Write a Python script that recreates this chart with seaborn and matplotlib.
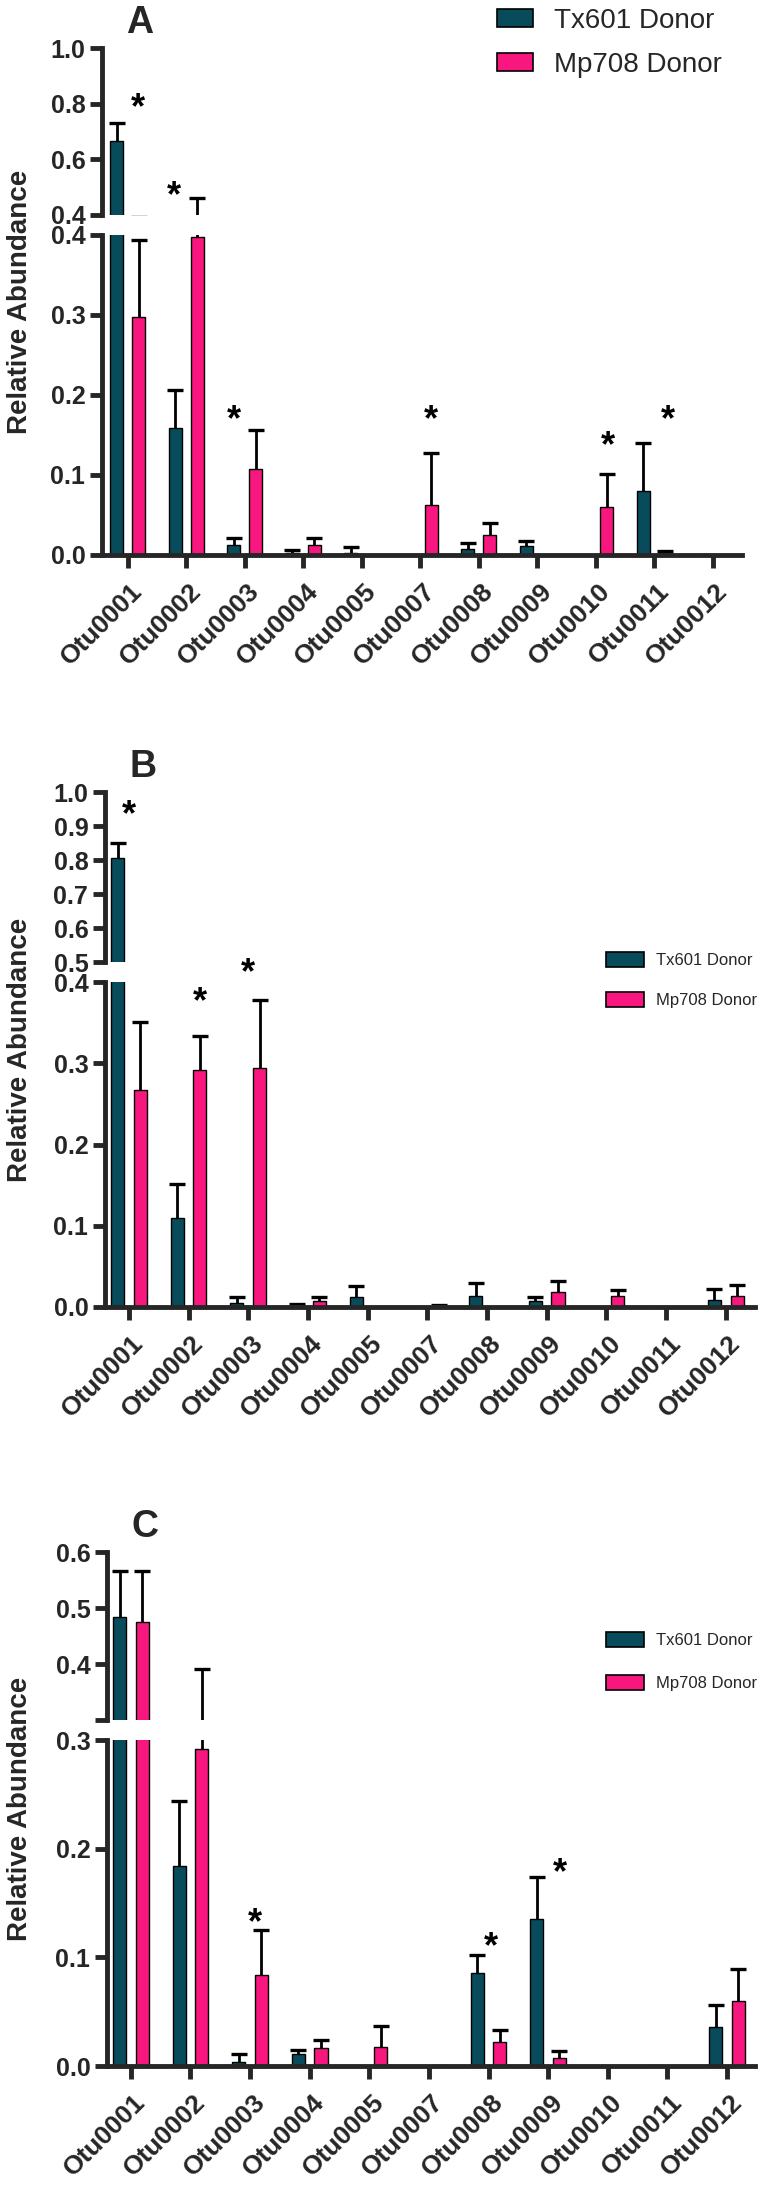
import matplotlib
matplotlib.use("Agg")
import matplotlib.pyplot as plt
from matplotlib.transforms import ScaledTranslation
import pandas as pd
import seaborn as sns

# categories / groups
otus = ["Otu0001", "Otu0002", "Otu0003", "Otu0004", "Otu0005", "Otu0007",
        "Otu0008", "Otu0009", "Otu0010", "Otu0011", "Otu0012"]
donors = ["Tx601 Donor", "Mp708 Donor"]

# panel A (mean, upper error)
tx_a = [0.665, 0.159, 0.0125, 0.003, 0.003, 0.0005, 0.008, 0.011, 0.0, 0.080, 0.001]
tx_a_err = [0.065, 0.047, 0.0085, 0.003, 0.007, 0.0, 0.007, 0.006, 0.0, 0.060, 0.0]
mp_a = [0.298, 0.398, 0.1075, 0.0125, 0.0, 0.0625, 0.025, 0.0, 0.060, 0.002, 0.0]
mp_a_err = [0.096, 0.062, 0.0485, 0.0085, 0.0, 0.0645, 0.015, 0.0, 0.041, 0.003, 0.0]

# panel B
tx_b = [0.806, 0.109, 0.005, 0.002, 0.012, 0.001, 0.014, 0.008, 0.0, 0.001, 0.009]
tx_b_err = [0.044, 0.043, 0.007, 0.002, 0.014, 0.0, 0.015, 0.004, 0.0, 0.0, 0.013]
mp_b = [0.267, 0.292, 0.294, 0.0075, 0.0, 0.001, 0.0, 0.018, 0.013, 0.0, 0.014]
mp_b_err = [0.084, 0.042, 0.084, 0.0045, 0.0, 0.002, 0.0, 0.014, 0.008, 0.0, 0.013]

# panel C
tx_c = [0.484, 0.184, 0.004, 0.011, 0.0, 0.0, 0.0855, 0.135, 0.0, 0.001, 0.036]
tx_c_err = [0.082, 0.060, 0.007, 0.0035, 0.0, 0.0, 0.0165, 0.039, 0.0, 0.0, 0.020]
mp_c = [0.475, 0.292, 0.084, 0.0165, 0.0175, 0.001, 0.022, 0.0075, 0.0, 0.0, 0.060]
mp_c_err = [0.091, 0.099, 0.041, 0.0075, 0.0195, 0.0, 0.011, 0.0065, 0.0, 0.0, 0.029]

# significance stars: category index, side (-1 Tx601, +1 Mp708), height
star_a_idx = [0, 1, 2, 5, 8, 9]
star_a_side = [0.9, -1.1, -1.0, 1.0, 1.1, 1.2]
star_a_y = [0.813, 0.496, 0.178, 0.178, 0.146, 0.178]
star_b_idx = [0, 1, 2]
star_b_side = [0.0, 1.0, 0.0]
star_b_y = [0.956, 0.385, 0.421]
star_c_idx = [2, 6, 7]
star_c_side = [0.4, 0.2, 1.0]
star_c_y = [0.139, 0.117, 0.185]

# axis breaks
up_a = (0.4, 1.0); up_a_ticks = [0.4, 0.6, 0.8, 1.0]; up_a_labels = ["0.4", "0.6", "0.8", "1.0"]
lo_a = (0.0, 0.4); lo_a_ticks = [0.0, 0.1, 0.2, 0.3, 0.4]
up_b = (0.5, 1.0); up_b_ticks = [0.5, 0.6, 0.7, 0.8, 0.9, 1.0]; up_b_labels = ["0.5", "0.6", "0.7", "0.8", "0.9", "1.0"]
lo_b = (0.0, 0.4); lo_b_ticks = [0.0, 0.1, 0.2, 0.3, 0.4]
up_c = (0.3, 0.6); up_c_ticks = [0.3, 0.4, 0.5, 0.6]; up_c_labels = ["", "0.4", "0.5", "0.6"]
lo_c = (0.0, 0.3); lo_c_ticks = [0.0, 0.1, 0.2, 0.3]

TEAL = "#084c5c"
PINK = "#f8177f"
W, H = 762, 2185

sns.set_theme(style="ticks")
plt.rcParams["font.family"] = ["Liberation Sans", "DejaVu Sans"]
plt.rcParams["font.weight"] = "bold"
plt.rcParams["axes.linewidth"] = 3.5
plt.rcParams["axes.facecolor"] = "none"

fig = plt.figure(figsize=(W / 100, H / 100), dpi=100)


def px_axes(left, right, top, bottom):
    return fig.add_axes([left / W, 1 - bottom / H, (right - left) / W, (bottom - top) / H])


def long_frame(tx, mp):
    return pd.DataFrame({
        "otu": otus * 2,
        "donor": [donors[0]] * len(otus) + [donors[1]] * len(otus),
        "value": tx + mp,
    })


def draw_bars(ax, df, errs, legend=False):
    sns.barplot(data=df, x="otu", y="value", hue="donor", order=otus, hue_order=donors,
                palette=[TEAL, PINK], saturation=1, width=0.76, gap=0.42,
                edgecolor="black", linewidth=1, errorbar=None, legend=legend, ax=ax)
    bars = list(ax.containers[:2])
    for cont, err in zip(bars, errs):
        for patch, e in zip(cont.patches, err):
            if e <= 0:
                continue
            x = patch.get_x() + patch.get_width() / 2
            h = patch.get_height()
            _, caps, _ = ax.errorbar(x, h, yerr=[[0], [e]], color="black", elinewidth=2,
                                     capsize=5.5, capthick=2.4)
            caps[0].set_visible(False)


def panel(letter, box, tx, tx_err, mp, mp_err, up, up_ticks, up_labels,
          lo, lo_ticks, xlim, stars, leg):
    left, right, top, mid_top, mid_bot, bottom = box
    df = long_frame(tx, mp)
    errs = [tx_err, mp_err]

    ax_lo = px_axes(left, right, mid_bot, bottom)
    ax_up = px_axes(left, right, top, mid_top)
    ax_up.set_zorder(3)

    draw_bars(ax_up, df, errs, legend=True)
    draw_bars(ax_lo, df, errs)

    for ax in (ax_up, ax_lo):
        ax.set_xlim(*xlim)
        ax.set_xlabel("")
        ax.set_ylabel("")
        ax.tick_params(axis="y", length=9, width=3.5, labelsize=18, pad=3)
        sns.despine(ax=ax)

    ax_up.set_ylim(*up)
    ax_up.set_yticks(up_ticks, up_labels)
    ax_up.spines["bottom"].set_visible(False)
    ax_up.tick_params(axis="x", bottom=False, labelbottom=False)

    ax_lo.set_ylim(*lo)
    ax_lo.set_yticks(lo_ticks, [f"{t:.1f}" for t in lo_ticks])
    ax_lo.set_xticks(range(len(otus)))
    ax_lo.set_xticklabels(otus, rotation=45, ha="right", va="center",
                          rotation_mode="anchor", fontsize=19, fontweight="bold")
    ax_lo.tick_params(axis="x", length=9.5, width=3.5, pad=14)
    shift = ScaledTranslation(8 / 72, 0, fig.dpi_scale_trans)
    for lbl in ax_lo.get_xticklabels():
        lbl.set_transform(lbl.get_transform() + shift)

    # stars
    s_idx, s_side, s_y = stars
    for i, sd, y in zip(s_idx, s_side, s_y):
        ax = ax_up if up[0] < y <= up[1] else ax_lo
        ax.annotate("*", (i + sd * 0.19, y), xytext=(0, -6), textcoords="offset points",
                    ha="center", va="center", fontsize=26, fontweight="bold",
                    color="black", annotation_clip=False)

    # legend
    leg_x, leg_y, leg_fs, leg_hl, leg_hh, leg_pad, leg_sp = leg
    sns.move_legend(ax_up, "upper left", bbox_to_anchor=(leg_x / W, 1 - leg_y / H),
                    bbox_transform=fig.transFigure, frameon=False, title=None,
                    prop={"weight": "normal", "size": leg_fs}, handlelength=leg_hl,
                    handleheight=leg_hh, handletextpad=leg_pad, labelspacing=leg_sp,
                    borderpad=0, borderaxespad=0)
    for hnd in ax_up.get_legend().legend_handles:
        hnd.set_edgecolor("black")
        hnd.set_linewidth(1.2)

    # panel letter and y label
    fig.text((left + 38) / W, 1 - (top - 25) / H, letter, fontsize=27,
             fontweight="bold", ha="center", va="center")
    fig.text(20 / W, 1 - (top + bottom) / 2 / H, "Relative Abundance", rotation=90,
             fontsize=20, fontweight="bold", ha="center", va="center")


panel("A", (102, 742, 48, 215, 235, 555), tx_a, tx_a_err, mp_a, mp_a_err,
      up_a, up_a_ticks, up_a_labels, lo_a, lo_a_ticks, (-0.44, 10.5),
      (star_a_idx, star_a_side, star_a_y), (497, 8, 20, 1.3, 0.62, 0.75, 0.65))
panel("B", (105, 755, 792, 962, 982, 1307), tx_b, tx_b_err, mp_b, mp_b_err,
      up_b, up_b_ticks, up_b_labels, lo_b, lo_b_ticks, (-0.40, 10.49),
      (star_b_idx, star_b_side, star_b_y), (606, 952, 12, 2.3, 1.0, 0.7, 1.45))
panel("C", (107, 755, 1552, 1720, 1740, 2066), tx_c, tx_c_err, mp_c, mp_c_err,
      up_c, up_c_ticks, up_c_labels, lo_c, lo_c_ticks, (-0.40, 10.47),
      (star_c_idx, star_c_side, star_c_y), (606, 1632, 12, 2.3, 1.0, 0.7, 1.6))

fig.savefig("out.png", dpi=100)
